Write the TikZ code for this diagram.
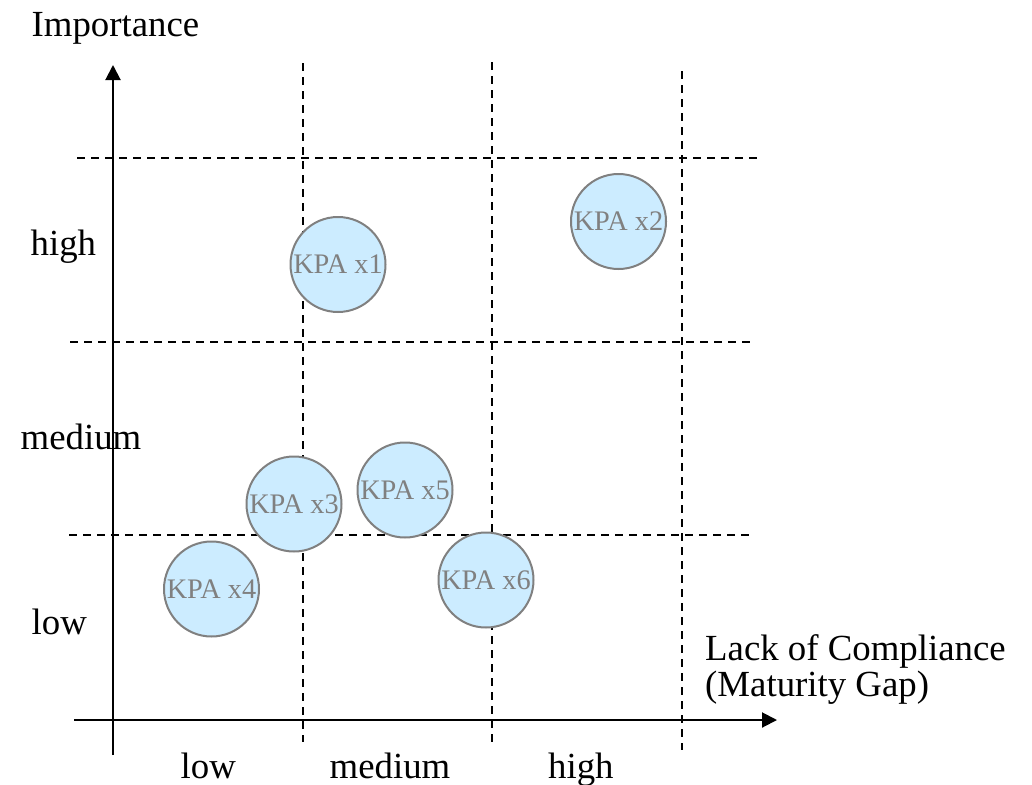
\documentclass[tikz,border=0pt]{standalone}
\usepackage{fontspec}
\setmainfont{Liberation Serif}
\usetikzlibrary{arrows.meta}
\definecolor{kpafill}{RGB}{204,236,255}
\definecolor{kpaline}{RGB}{128,128,128}
\begin{document}
\begin{tikzpicture}[x=1pt,y=-1pt,
  axisline/.style={line width=2pt,-{Triangle[width=15pt,length=15pt]}},
  gridline/.style={line width=2pt,dash pattern=on 7.5pt off 6.5pt},
  label/.style={font=\fontsize{36.8}{40}\selectfont,anchor=base west,inner sep=0pt},
  kpa/.style={circle,draw=kpaline,line width=2pt,fill=kpafill,minimum size=95pt,inner sep=0pt,
    text=kpaline,font=\fontsize{28.3}{30}\selectfont}]
\useasboundingbox (0,0) rectangle (1032,784);

% grid of dashed lines
\coordinate (v1t) at (303,63);  \coordinate (v1b) at (303,742);
\coordinate (v2t) at (492,62);  \coordinate (v2b) at (492,748);
\coordinate (v3t) at (682,71);  \coordinate (v3b) at (682,750);
\coordinate (h1l) at (77,158);  \coordinate (h1r) at (757,158);
\coordinate (h2l) at (70,342);  \coordinate (h2r) at (751,342);
\coordinate (h3l) at (69,535);  \coordinate (h3r) at (749,535);
\draw[gridline] (v1t) -- (v1b);
\draw[gridline] (v2t) -- (v2b);
\draw[gridline] (v3t) -- (v3b);
\draw[gridline] (h1l) -- (h1r);
\draw[gridline] (h2l) -- (h2r);
\draw[gridline] (h3l) -- (h3r);

% axes
\coordinate (yfoot) at (113,755); \coordinate (ytip) at (113,65);
\coordinate (xfoot) at (74,720);  \coordinate (xtip) at (777,720);
\draw[axisline] (yfoot) -- (ytip);
\draw[axisline] (xfoot) -- (xtip);

% axis titles
\node[label] (ytitle) at (31.5,37) {Importance};
\node[label] (xtitle1) at (705,660.5) {Lack of Compliance};
\node[label] (xtitle2) at (705,696.5) {(Maturity Gap)};

% category labels
\node[label] (yhigh) at (30.5,255) {high};
\node[label] (ymed) at (20.5,449.5) {medium};
\node[label] (ylow) at (31.5,634.5) {low};
\node[label] (xlow) at (180.5,778) {low};
\node[label] (xmed) at (329.5,778) {medium};
\node[label] (xhigh) at (548,778) {high};

% key process areas
\node[kpa] (k1) at (338,264.5) {KPA x1};
\node[kpa] (k2) at (618.5,221.5) {KPA x2};
\node[kpa] (k3) at (294,504) {KPA x3};
\node[kpa] (k5) at (405,490) {KPA x5};
\node[kpa] (k4) at (211.5,589) {KPA x4};
\node[kpa] (k6) at (486,580) {KPA x6};
\end{tikzpicture}
\end{document}
